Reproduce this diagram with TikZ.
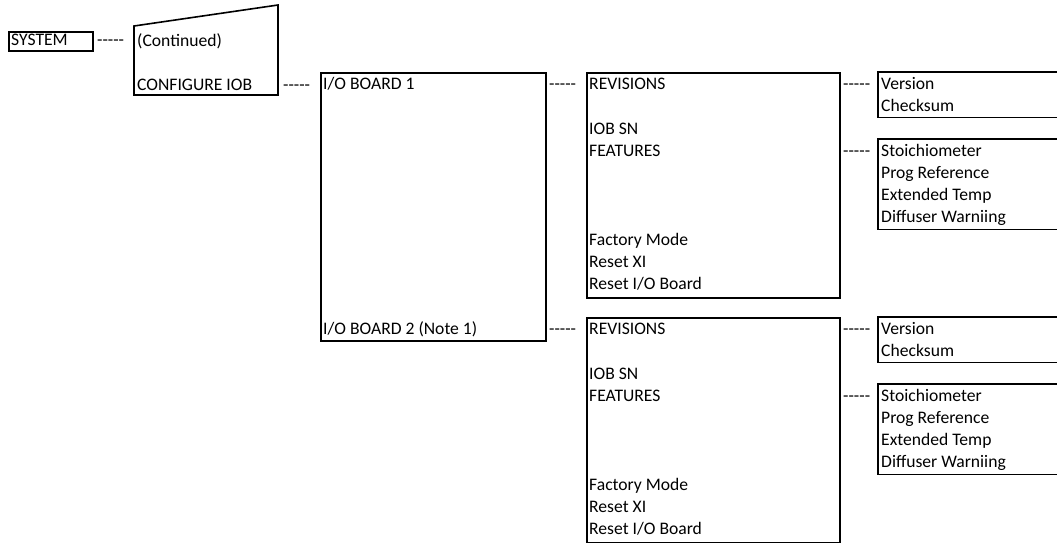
\documentclass[tikz,border=0pt]{standalone}
\usepackage{fontspec}
\setmainfont{Carlito}[Ligatures=TeXOff]
\tikzset{
  bx/.style={draw=black, line width=1.6pt},
  boxnode/.style={rectangle, draw=black, line width=1.6pt, inner sep=0pt, anchor=north west},
  openbox/.style={rectangle, draw=none, inner sep=0pt, anchor=north west},
  lbl/.style={anchor=base west, inner sep=0pt, font=\fontsize{17.6}{22}\selectfont},
  dsh/.style={anchor=base west, inner sep=0pt, font=\fontsize{17.6}{22}\selectfont},
}
\begin{document}
\begin{tikzpicture}[x=1pt,y=-1pt]
\useasboundingbox (0,0) rectangle (1057,542);
% SYSTEM
\node[boxnode, minimum width=84pt, minimum height=19pt] (sys) at (8,31) {};
\node[lbl] (systxt) at (11,45) {SYSTEM};
\node[dsh] (d0) at (97,45) {{-}{-}{-}{-}{-}};
% Continued trapezoid
\coordinate (ctl) at (134,26);
\coordinate (ctr) at (278,5);
\coordinate (cbr) at (278,95);
\coordinate (cbl) at (134,95);
\draw[bx] (ctl) -- (ctr) -- (cbr) -- (cbl) -- cycle;
\node[lbl] (cont) at (137,46) {(Continued)};
\node[lbl] (cfg) at (137,90) {CONFIGURE IOB};
\node[dsh] (d1) at (283,90) {{-}{-}{-}{-}{-}};
% I/O board box
\node[boxnode, minimum width=225pt, minimum height=268pt] (iob) at (320,72) {};
\node[lbl] (iob1) at (323,89) {I/O BOARD 1};
\node[lbl] (iob2) at (323,334) {I/O BOARD 2 (Note 1)};
\node[dsh] (d2) at (549,89) {{-}{-}{-}{-}{-}};
\node[dsh] (d3) at (549,334) {{-}{-}{-}{-}{-}};
% group boxes
\foreach \g/\dy in {a/0, b/245} {
  \node[boxnode, minimum width=253pt, minimum height=225pt] (rev\g) at (586,72+\dy) {};
  \node[lbl] (rev\g t1) at (589,89+\dy) {REVISIONS};
  \node[lbl] (rev\g t2) at (589,134+\dy) {IOB SN};
  \node[lbl] (rev\g t3) at (589,156+\dy) {FEATURES};
  \node[lbl] (rev\g t4) at (589,245+\dy) {Factory Mode};
  \node[lbl] (rev\g t5) at (589,267+\dy) {Reset XI};
  \node[lbl] (rev\g t6) at (589,289+\dy) {Reset I/O Board};
  \node[dsh] (d\g 1) at (843,89+\dy) {{-}{-}{-}{-}{-}};
  \node[dsh] (d\g 2) at (843,156+\dy) {{-}{-}{-}{-}{-}};
  % version box
  \node[openbox, minimum width=185pt, minimum height=45pt] (ver\g) at (878,72+\dy) {};
  \draw[bx] (ver\g.north east) -- (ver\g.north west) -- (ver\g.south west) -- (ver\g.south east);
  \node[lbl] (ver\g t1) at (881,89+\dy) {Version};
  \node[lbl] (ver\g t2) at (881,111+\dy) {Checksum};
  % features box
  \node[openbox, minimum width=185pt, minimum height=90pt] (fea\g) at (878,139+\dy) {};
  \draw[bx] (fea\g.north east) -- (fea\g.north west) -- (fea\g.south west) -- (fea\g.south east);
  \node[lbl] (fea\g t1) at (881,156+\dy) {Stoichiometer};
  \node[lbl] (fea\g t2) at (881,178+\dy) {Prog Reference};
  \node[lbl] (fea\g t3) at (881,200+\dy) {Extended Temp};
  \node[lbl] (fea\g t4) at (881,222+\dy) {Diffuser Warniing};
}
\end{tikzpicture}
\end{document}
